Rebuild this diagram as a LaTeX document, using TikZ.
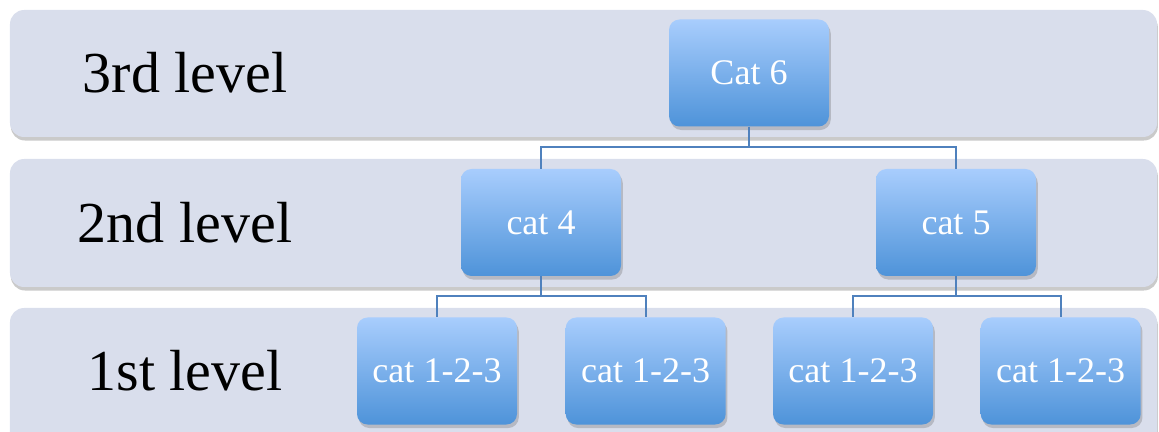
\documentclass[tikz,border=0pt]{standalone}
\usepackage{fontspec}
\setmainfont{Liberation Serif}
\usetikzlibrary{positioning, shadows}
\definecolor{bandfill}{HTML}{D9DEEC}
\definecolor{boxtop}{HTML}{A8CDFD}
\definecolor{boxbottom}{HTML}{4E93D9}
\definecolor{linkblue}{HTML}{4F81BD}
\tikzset{
  band/.style={rectangle, rounded corners=8pt, fill=bandfill, draw=none,
    drop shadow={shadow xshift=0.5pt, shadow yshift=-2pt, opacity=0.35, fill=black!60}},
  levellabel/.style={font=\fontsize{33}{39}\selectfont, text=black},
  catbox/.style={rectangle, rounded corners=6pt, minimum width=3.2cm, minimum height=2.14cm,
    top color=boxtop, bottom color=boxbottom, draw=none, text=white,
    font=\fontsize{20.5}{24}\selectfont,
    drop shadow={shadow xshift=1pt, shadow yshift=-2pt, opacity=0.3, fill=black!60}},
  link/.style={draw=linkblue, line width=1.2pt}
}
\begin{document}
\begin{tikzpicture}
\useasboundingbox (0,0) rectangle (23.18,-8.64);

% level bands
\fill[band] (0.2,-0.2) rectangle (23.14,-2.74);
\fill[band] (0.2,-3.18) rectangle (23.14,-5.74);
\fill[band] (0.2,-6.16) rectangle (23.14,-9.2);

\node[levellabel] (l3) at (3.7,-1.46) {3rd level};
\node[levellabel] (l2) at (3.7,-4.46) {2nd level};
\node[levellabel] (l1) at (3.7,-7.42) {1st level};

% tree
\node[catbox] (c6) at (14.98,-1.46) {Cat 6};
\node[catbox] (c4) at (10.82,-4.45) {cat 4};
\node[catbox] (c5) at (19.12,-4.45) {cat 5};

\node[catbox] (c1a) at (8.74,-7.42) {cat 1-2-3};
\node[catbox, right=0.96cm of c1a] (c1b) {cat 1-2-3};
\node[catbox] (c1c) at (17.06,-7.42) {cat 1-2-3};
\node[catbox, right=0.94cm of c1c] (c1d) {cat 1-2-3};

\draw[link] (c6.south) -- ++(0,-0.4) -| (c4.north);
\draw[link] (c6.south) -- ++(0,-0.4) -| (c5.north);
\draw[link] (c4.south) -- ++(0,-0.4) -| (c1a.north);
\draw[link] (c4.south) -- ++(0,-0.4) -| (c1b.north);
\draw[link] (c5.south) -- ++(0,-0.4) -| (c1c.north);
\draw[link] (c5.south) -- ++(0,-0.4) -| (c1d.north);

\end{tikzpicture}
\end{document}
